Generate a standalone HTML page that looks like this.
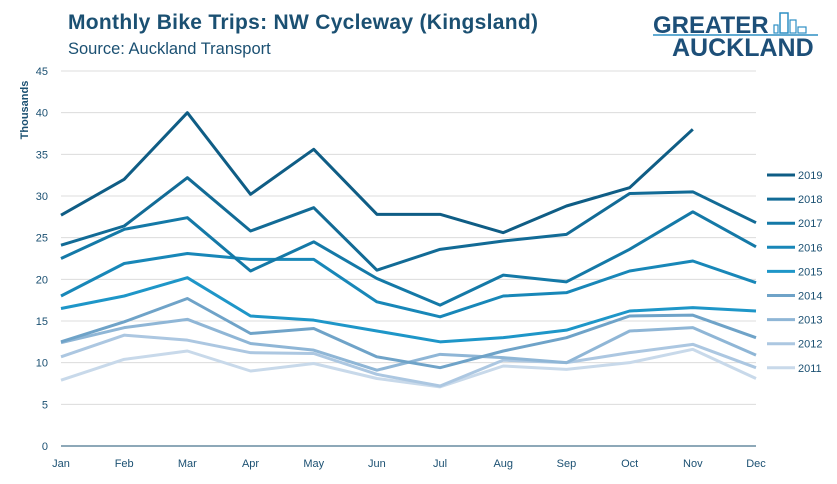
<!DOCTYPE html>
<html><head><meta charset="utf-8"><style>
body{margin:0;background:#fff;font-family:"Liberation Sans",sans-serif}
svg text{font-family:"Liberation Sans",sans-serif}
</style></head><body>
<svg id="c" width="837" height="479">
<text x="68" y="29" font-size="21" font-weight="bold" letter-spacing="0.3" fill="#1b5072">Monthly Bike Trips: NW Cycleway (Kingsland)</text>
<text x="68" y="54" font-size="16.5" fill="#1b5072">Source: Auckland Transport</text>
<g>
<text x="653" y="33" font-size="24" font-weight="bold" fill="#1d4f78">GREATER</text>
<text x="672" y="56" font-size="25" font-weight="bold" fill="#1d4f78">AUCKLAND</text>
<line x1="653" y1="35" x2="818" y2="35" stroke="#2e8fc4" stroke-width="1.5"/>
<rect x="774" y="25" width="4" height="8" fill="none" stroke="#2e8fc4" stroke-width="1.2"/>
<rect x="780" y="13" width="8" height="20" fill="none" stroke="#2e8fc4" stroke-width="1.5"/>
<rect x="790" y="20" width="6" height="13" fill="none" stroke="#2e8fc4" stroke-width="1.2"/>
<rect x="798" y="27" width="8" height="6" fill="none" stroke="#2e8fc4" stroke-width="1.2"/>
</g>
<text transform="translate(28,110) rotate(-90)" font-size="11" font-weight="bold" fill="#1b5072" text-anchor="middle">Thousands</text>
<g id="grid"></g><g id="lines"></g><g id="legend"></g>
</svg>
<script>
const months=["Jan","Feb","Mar","Apr","May","Jun","Jul","Aug","Sep","Oct","Nov","Dec"];
const yTicks=[0,5,10,15,20,25,30,35,40,45];
const years=["2019","2018","2017","2016","2015","2014","2013","2012","2011"];
const colors=["#0f5d85","#126b96","#1479a7","#1887b8","#1e96c8","#6fa3c8","#8fb6d6","#acc7e1","#c8d9ea"];
const s2019=[27.7,32,40,30.2,35.6,27.8,27.8,25.6,28.8,31,38];
const s2018=[24.1,26.4,32.2,25.8,28.6,21.1,23.6,24.6,25.4,30.3,30.5,26.8];
const s2017=[22.5,26,27.4,21,24.5,20.1,16.9,20.5,19.7,23.6,28.1,23.9];
const s2016=[18,21.9,23.1,22.4,22.4,17.3,15.5,18,18.4,21,22.2,19.6];
const s2015=[16.5,18,20.2,15.6,15.1,13.8,12.5,13,13.9,16.2,16.6,16.2];
const s2014=[12.5,14.9,17.7,13.5,14.1,10.7,9.4,11.4,13,15.6,15.7,13];
const s2013=[12.4,14.2,15.2,12.3,11.5,9.1,11,10.6,10,13.8,14.2,10.9];
const s2012=[10.7,13.3,12.7,11.2,11.1,8.6,7.2,10.3,10,11.2,12.2,9.4];
const s2011=[7.9,10.4,11.4,9,9.9,8.1,7.1,9.6,9.2,10,11.6,8.1];
const series=[s2019,s2018,s2017,s2016,s2015,s2014,s2013,s2012,s2011];
const X0=61,X1=756,Y0=446,Y1=71;
const x=i=>X0+i*(X1-X0)/11;
const y=v=>Y0-v*(Y0-Y1)/45;
const NS="http://www.w3.org/2000/svg";
function mk(t,a,p){const e=document.createElementNS(NS,t);for(const k in a)e.setAttribute(k,a[k]);p.appendChild(e);return e;}
const g=document.getElementById("grid");
yTicks.forEach(t=>{
 if(t>0){const l=mk("line",{x1:X0,x2:X1,y1:y(t),y2:y(t),stroke:"#dcdcdc","stroke-width":1},g);
 
 }
 const tx=mk("text",{x:48,y:y(t)+4,"font-size":11,fill:"#1b5072","text-anchor":"end"},g);tx.textContent=t;
 
 
});
const ax=mk("line",{x1:X0,x2:X1,y1:Y0,y2:Y0,stroke:"#1b5072","stroke-width":1},g);


months.forEach((m,i)=>{
 const tx=mk("text",{x:x(i),y:467,"font-size":11,fill:"#1b5072","text-anchor":"middle"},g);tx.textContent=m;
 
 
});
const L=document.getElementById("lines");
for(let k=series.length-1;k>=0;k--){
 const p=mk("polyline",{points:series[k].map((v,i)=>x(i)+","+y(v)).join(" "),fill:"none",stroke:colors[k],"stroke-width":3,"stroke-linejoin":"round"},L);
 
 
}
const lg=document.getElementById("legend");
years.forEach((yr,k)=>{
 const yy=175+k*24.1;
 const gg=mk("g",{},lg);
 
 
 mk("line",{x1:767,x2:795,y1:yy,y2:yy,stroke:colors[k],"stroke-width":3},gg);
 const t=mk("text",{x:798,y:yy+4,"font-size":11,fill:"#1b5072"},gg);t.textContent=yr;
});
</script>
</body></html>
